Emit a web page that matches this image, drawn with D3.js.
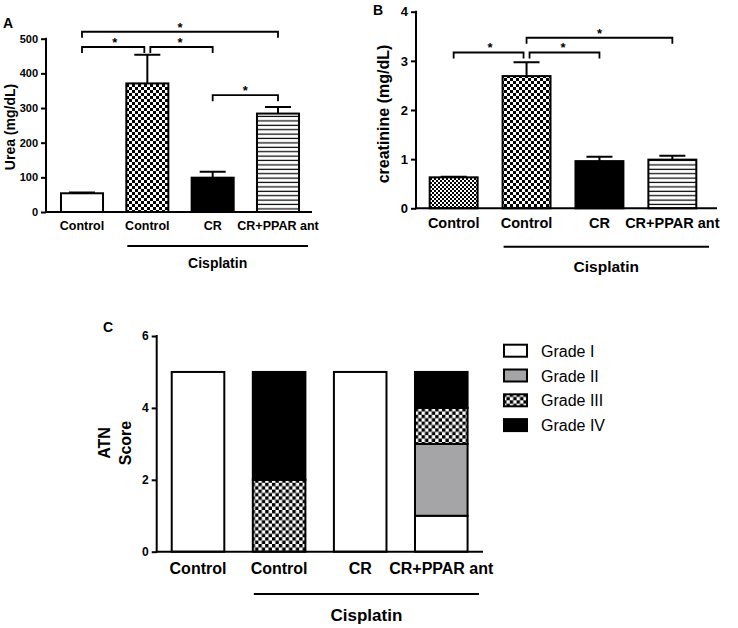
<!DOCTYPE html>
<html>
<head>
<meta charset="utf-8">
<script src="https://cdnjs.cloudflare.com/ajax/libs/d3/7.8.5/d3.min.js"></script>
<style>
	body { margin: 0; background: #fff; }
	svg text { font-family: "Liberation Sans", Arial, sans-serif; fill: #000; }
	.bold { font-weight: bold; }
</style>
</head>
<body>
<svg id="chart"></svg>
<script>
// Data.
var groups = ["Control", "Control", "CR", "CR+PPAR ant"];

var ureaMean = [54, 371, 99, 284];
var ureaSem = [2, 83, 17, 19];
var ureaTicks = [0, 100, 200, 300, 400, 500];
var ureaSig = [[0, 3, 520], [0, 1, 476], [1, 2, 476], [2, 3, 337]];

var creatMean = [0.63, 2.69, 0.96, 0.99];
var creatSem = [0.01, 0.28, 0.09, 0.08];
var creatTicks = [0, 1, 2, 3, 4];
var creatSig = [[0, 1, 3.17], [1, 2, 3.17], [1, 3, 3.47]];

var grades = ["Grade I", "Grade II", "Grade III", "Grade IV"];
var gradeI = [5, 0, 5, 1];
var gradeII = [0, 0, 0, 2];
var gradeIII = [0, 2, 0, 1];
var gradeIV = [0, 3, 0, 1];
var atnTicks = [0, 2, 4, 6];

var svg = d3.select("#chart")
	.attr("width", 738)
	.attr("height", 628);

// Patterns.
var defs = svg.append("defs");
function checker(id, cell)
{
	var p = defs.append("pattern")
		.attr("id", id)
		.attr("patternUnits", "userSpaceOnUse")
		.attr("width", cell * 2)
		.attr("height", cell * 2);
	p.append("rect").attr("width", cell * 2).attr("height", cell * 2).attr("fill", "#fff");
	p.append("rect").attr("width", cell).attr("height", cell).attr("fill", "#000");
	p.append("rect").attr("x", cell).attr("y", cell).attr("width", cell).attr("height", cell).attr("fill", "#000");
}
checker("chk", 3);
checker("chkFine", 2);
checker("chkC", 3.4);
var hp = defs.append("pattern")
	.attr("id", "hlines")
	.attr("patternUnits", "userSpaceOnUse")
	.attr("width", 8)
	.attr("height", 4.4);
hp.append("rect").attr("width", 8).attr("height", 4.4).attr("fill", "#fff");
hp.append("rect").attr("y", 1.5).attr("width", 8).attr("height", 1.2).attr("fill", "#000");

var gray = "#a5a5a8";

// Shared pieces for the bar panels.
function drawAxes(g, x, y, ticks, axisEnd, tickFont)
{
	var yAxis = g.append("g")
		.attr("transform", "translate(" + x.range()[0] + ",0)")
		.call(d3.axisLeft(y).tickValues(ticks).tickFormat(d3.format("d")).tickSize(5).tickPadding(3));
	yAxis.select(".domain").remove();
	yAxis.selectAll("line").attr("stroke", "#000").attr("stroke-width", 2);
	yAxis.selectAll("text")
		.attr("class", "bold")
		.style("font-size", tickFont + "px")
		.style("font-family", "Liberation Sans, Arial, sans-serif");

	var y0 = y(0);
	var yTop = y(ticks[ticks.length - 1]);
	g.append("line")
		.attr("x1", x.range()[0]).attr("x2", x.range()[0])
		.attr("y1", y0 + 1).attr("y2", yTop - 1)
		.attr("stroke", "#000").attr("stroke-width", 2);
	g.append("line")
		.attr("x1", x.range()[0] - 1).attr("x2", axisEnd)
		.attr("y1", y0).attr("y2", y0)
		.attr("stroke", "#000").attr("stroke-width", 2);
}

function drawGroupLabels(g, x, labelY, labelFont, lineY, lineEnd, cisY, cisFont)
{
	g.selectAll(".cat")
		.data(groups)
		.enter()
		.append("text")
		.attr("class", "bold")
		.attr("x", function(d, i) { return x(i) + x.bandwidth() / 2; })
		.attr("y", labelY)
		.attr("text-anchor", "middle")
		.style("font-size", labelFont + "px")
		.text(function(d) { return d; });
	var lineStart = x(1) + 2;
	g.append("line")
		.attr("x1", lineStart).attr("x2", lineEnd)
		.attr("y1", lineY).attr("y2", lineY)
		.attr("stroke", "#000").attr("stroke-width", 2);
	g.append("text")
		.attr("class", "bold")
		.attr("x", (lineStart + lineEnd) / 2)
		.attr("y", cisY)
		.attr("text-anchor", "middle")
		.style("font-size", cisFont + "px")
		.text("Cisplatin");
}

function drawBarPanel(o)
{
	var g = svg.append("g");
	var x = d3.scaleBand()
		.domain(d3.range(groups.length))
		.range(o.xRange)
		.paddingInner(o.padIn)
		.paddingOuter(o.padOut);
	var y = d3.scaleLinear()
		.domain([0, o.ticks[o.ticks.length - 1]])
		.range(o.yRange);

	// Error bars (upper only).
	var capHalf = 13;
	g.selectAll(".err")
		.data(o.mean)
		.enter()
		.append("path")
		.attr("d", function(d, i)
			{
				var cx = x(i) + x.bandwidth() / 2;
				var top = y(d + o.sem[i]);
				return "M" + cx + "," + y(d) + "V" + top + "M" + (cx - capHalf) + "," + top + "H" + (cx + capHalf);
			})
		.attr("stroke", "#000")
		.attr("stroke-width", 2)
		.attr("fill", "none");

	// Bars.
	g.selectAll(".bar")
		.data(o.mean)
		.enter()
		.append("rect")
		.attr("x", function(d, i) { return x(i) + 1; })
		.attr("y", function(d) { return y(d); })
		.attr("width", x.bandwidth() - 2)
		.attr("height", function(d) { return y(0) - y(d); })
		.attr("fill", function(d, i) { return o.fills[i]; })
		.attr("stroke", "#000")
		.attr("stroke-width", 2);

	drawAxes(g, x, y, o.ticks, o.axisEnd, o.tickFont);

	// Significance brackets.
	var bracketDepth = 6;
	g.selectAll(".sig")
		.data(o.sig)
		.enter()
		.append("path")
		.attr("d", function(d)
			{
				var shared0 = o.sig.filter(function(s) { return s !== d && (s[0] === d[0] || s[1] === d[0]) && s[2] === d[2]; }).length > 0;
				var shared1 = o.sig.filter(function(s) { return s !== d && (s[0] === d[1] || s[1] === d[1]) && s[2] === d[2]; }).length > 0;
				var x0 = x(d[0]) + x.bandwidth() / 2 + (shared0 ? 3 : 0);
				var x1 = x(d[1]) + x.bandwidth() / 2 - (shared1 ? 3 : 0);
				var yy = y(d[2]);
				return "M" + x0 + "," + (yy + bracketDepth) + "V" + yy + "H" + x1 + "V" + (yy + bracketDepth);
			})
		.attr("stroke", "#000")
		.attr("stroke-width", 1.8)
		.attr("fill", "none");
	g.selectAll(".star")
		.data(o.sig)
		.enter()
		.append("text")
		.attr("class", "bold")
		.attr("x", function(d) { return (x(d[0]) + x(d[1])) / 2 + x.bandwidth() / 2; })
		.attr("y", function(d) { return y(d[2]); })
		.attr("text-anchor", "middle")
		.style("font-size", "13px")
		.text("*");

	// Axis title.
	g.append("text")
		.attr("class", "bold")
		.attr("transform", "translate(" + o.titleX + "," + o.titleY + ") rotate(-90)")
		.attr("text-anchor", "middle")
		.style("font-size", o.titleFont + "px")
		.text(o.title);

	drawGroupLabels(g, x, o.labelY, o.labelFont, o.lineY, o.lineEnd, o.cisY, o.cisFont);

	g.append("text")
		.attr("class", "bold")
		.attr("x", o.letterX)
		.attr("y", o.letterY)
		.style("font-size", "14px")
		.text(o.letter);
}

/*********
* Panel A *
*********/
drawBarPanel({
	letter: "A", letterX: 3, letterY: 28,
	mean: ureaMean, sem: ureaSem, ticks: ureaTicks, sig: ureaSig,
	fills: ["#fff", "url(#chk)", "#000", "url(#hlines)"],
	xRange: [46, 314], padIn: 0.326, padOut: 0.214, axisEnd: 312,
	yRange: [212, 38.7],
	tickFont: 11,
	title: "Urea (mg/dL)", titleX: 15, titleY: 127, titleFont: 14,
	labelY: 230, labelFont: 12.5,
	lineY: 246, lineEnd: 308, cisY: 268, cisFont: 14
});

/*********
* Panel B *
*********/
drawBarPanel({
	letter: "B", letterX: 373, letterY: 15,
	mean: creatMean, sem: creatSem, ticks: creatTicks, sig: creatSig,
	fills: ["url(#chkFine)", "url(#chk)", "#000", "url(#hlines)"],
	xRange: [416, 710], padIn: 0.315, padOut: 0.174, axisEnd: 717,
	yRange: [208.3, 11.7],
	tickFont: 13,
	title: "creatinine (mg/dL)", titleX: 389, titleY: 114, titleFont: 16,
	labelY: 228, labelFont: 14.5,
	lineY: 246.7, lineEnd: 709, cisY: 272, cisFont: 15.5
});

/*********
* Panel C *
*********/
{
	var gC = svg.append("g");
	var xC = d3.scaleBand()
		.domain(d3.range(groups.length))
		.range([156.7, 482.6])
		.paddingInner(0.327)
		.paddingOuter(0.173);
	var yC = d3.scaleLinear()
		.domain([0, 6])
		.range([551.7, 336]);

	var gradeFills = ["#fff", gray, "url(#chkC)", "#000"];
	var stackRows = groups.map(function(d, i)
		{
			return {"i": i, "g0": gradeI[i], "g1": gradeII[i], "g2": gradeIII[i], "g3": gradeIV[i]};
		});
	var series = d3.stack().keys(["g0", "g1", "g2", "g3"])(stackRows);

	var layers = gC.selectAll(".layer")
		.data(series)
		.enter()
		.append("g")
		.attr("fill", function(d, k) { return gradeFills[k]; });
	layers.selectAll("rect")
		.data(function(d) { return d.filter(function(s) { return s[1] > s[0]; }); })
		.enter()
		.append("rect")
		.attr("x", function(d) { return xC(d.data.i) + 1; })
		.attr("y", function(d) { return yC(d[1]); })
		.attr("width", xC.bandwidth() - 2)
		.attr("height", function(d) { return yC(d[0]) - yC(d[1]); })
		.attr("stroke", "#000")
		.attr("stroke-width", 2);

	drawAxes(gC, xC, yC, atnTicks, 483, 12);

	gC.append("text")
		.attr("class", "bold")
		.attr("transform", "translate(131,443) rotate(-90)")
		.attr("text-anchor", "middle")
		.style("font-size", "16px")
		.text("Score");
	gC.append("text")
		.attr("class", "bold")
		.attr("transform", "translate(110,443) rotate(-90)")
		.attr("text-anchor", "middle")
		.style("font-size", "16px")
		.text("ATN");

	drawGroupLabels(gC, xC, 574, 16, 594, 479, 621, 17);

	gC.append("text")
		.attr("class", "bold")
		.attr("x", 103)
		.attr("y", 332)
		.style("font-size", "14px")
		.text("C");

	// Legend.
	var legend = gC.selectAll(".legend")
		.data(grades)
		.enter()
		.append("g")
		.attr("transform", function(d, k) { return "translate(503," + (350.7 + k * 24.8) + ")"; });
	legend.append("rect")
		.attr("x", 1)
		.attr("y", -6)
		.attr("width", 23)
		.attr("height", 12)
		.attr("fill", function(d, k) { return gradeFills[k]; })
		.attr("stroke", "#000")
		.attr("stroke-width", 2);
	legend.append("text")
		.attr("x", 38)
		.attr("y", 6)
		.style("font-size", "16px")
		.text(function(d) { return d; });
}
</script>
</body>
</html>
